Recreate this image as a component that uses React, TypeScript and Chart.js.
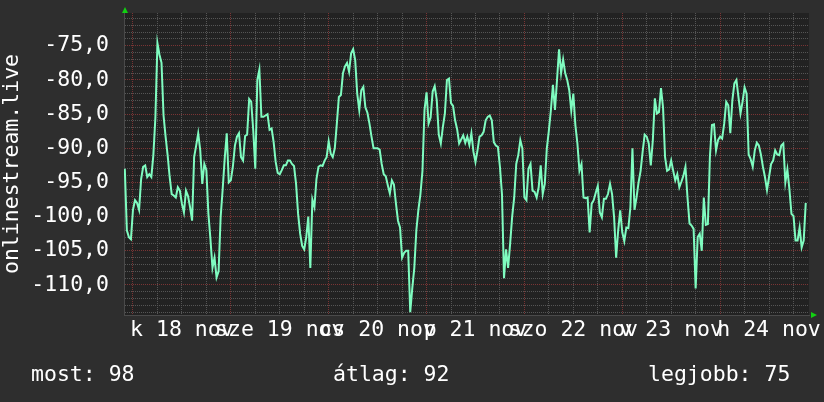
import { useEffect, useRef } from 'react';
import { Chart, registerables } from 'chart.js';

Chart.register(...registerables);

// ---- data (hours relative to 18 Nov 00:00, one value every half hour) ----
const startHour = -2;
const stepHours = 0.5;
const signalValues: number[] = [
  -93, -102, -103, -103.3, -99, -97.6, -98, -99, -94.5, -92.7,
  -92.5, -94.2, -93.8, -94.2, -91, -85.5, -74.6, -76.3, -77.5, -85.2,
  -88.3, -91, -94.2, -96.7, -96.9, -97.2, -95.7, -96.2, -98.1, -99.4,
  -96.2, -97, -98.6, -100.6, -91.3, -89.6, -87.8, -90.3, -95.2, -92.3,
  -93.2, -99.6, -103.3, -107.5, -106, -108.9, -108, -100.1, -96, -91.5,
  -87.8, -95, -94.7, -92.7, -89.6, -88.3, -87.8, -91.3, -91.8, -88.2,
  -88, -82.8, -83.2, -87.4, -93, -80, -78.5, -85.4, -85.4, -85.2,
  -85, -87.3, -87.1, -89.1, -92, -93.6, -93.8, -93.2, -92.5, -92.5,
  -91.8, -91.8, -92.3, -92.6, -95.2, -99.6, -102.5, -104.3, -104.8, -103,
  -100, -107.5, -97.5, -98.6, -94.5, -92.7, -92.5, -92.6, -91.8, -91.3,
  -89, -90.8, -91.3, -90, -86.4, -82.5, -82.2, -79, -78, -77.5,
  -78.8, -76.1, -75.5, -77.1, -82, -84.4, -81.5, -81, -84, -84.8,
  -86.4, -88.3, -90, -90, -90, -90.2, -92.3, -93.8, -94.1, -95.4,
  -96.6, -94.7, -95.3, -98.1, -100.6, -101.6, -106, -105.3, -105, -105,
  -114, -110.5, -107.5, -102, -99, -96.7, -93.3, -84.4, -81.8, -86.4,
  -85.5, -81.7, -80.9, -82.9, -88, -89.3, -86.9, -84.9, -80, -79.8,
  -83.4, -83.8, -85.9, -87.2, -89.3, -88.7, -88.1, -89.2, -88.3, -89.5,
  -87.8, -90.5, -92, -90.3, -88.3, -88.1, -87.6, -85.9, -85.4, -85.2,
  -85.9, -89.1, -89.6, -89.8, -92.7, -96.7, -109, -104.8, -107.5, -104,
  -100, -97.2, -92.3, -91, -88.8, -90, -97.2, -97.6, -93, -92.3,
  -96.2, -96.4, -97.2, -95.7, -92.5, -96.7, -95.2, -90, -87.4, -84.4,
  -80.7, -84.4, -80, -75.5, -79, -77, -79, -80, -81.5, -84.5,
  -82, -86.6, -89.3, -93.3, -92.3, -97.2, -97.3, -97.2, -102.3, -98.1,
  -97.6, -96.5, -95.5, -99.4, -100.1, -97.4, -97.4, -96.7, -95.2, -96.7,
  -100.1, -106, -102, -99.1, -102.3, -103.6, -101.6, -101.7, -98.6, -90,
  -99, -97.2, -95, -93.3, -90.5, -88, -88.3, -89.3, -92.5, -88.8,
  -82.7, -84.9, -84.7, -81.2, -84, -91.3, -93.3, -93.1, -91.8, -93.3,
  -94.7, -93.8, -95.7, -94.9, -94, -92.7, -97.2, -101, -101.3, -101.8,
  -110.5, -103, -102.5, -105, -97.2, -101.2, -101.1, -91.2, -86.6, -86.5,
  -90.3, -88.8, -88.3, -88.6, -86.4, -83.2, -83.7, -87.8, -83, -80.5,
  -80, -82.5, -84.9, -83.2, -81.1, -82, -90.9, -91.6, -92.7, -90.3,
  -89.2, -89.6, -90.9, -92.7, -94.2, -96.1, -94.2, -92.3, -91.8, -90.3,
  -90.9, -91, -89.6, -89.3, -95, -93.1, -96, -99.6, -99.9, -103.5,
  -103.5, -101.6, -104.5, -103.5, -98,
];

const dayLabels = ['k 18 nov', 'sze 19 nov', 'cs 20 nov', 'p 21 nov', 'szo 22 nov', 'v 23 nov', 'h 24 nov'];
const dayLabelHours = [12, 36, 60, 84, 108, 132, 156];
const xGridHours = [0, 6, 12, 18, 24, 30, 36, 42, 48, 54, 60, 66, 72, 78, 84, 90, 96, 102, 108, 114, 120, 126, 132, 138, 144, 150, 156, 162];
const yGridValues = [
  -114, -113, -112, -111, -110, -109, -108, -107, -106, -105, -104, -103, -102, -101, -100,
  -99, -98, -97, -96, -95, -94, -93, -92, -91, -90, -89, -88, -87, -86, -85, -84, -83, -82, -81,
  -80, -79, -78, -77, -76, -75, -74, -73, -72, -71,
];
const yLabelValues = [-110, -105, -100, -95, -90, -85, -80, -75];
const axisTitle = 'onlinestream.live';
const footerTexts = ['most: 98', 'átlag: 92', 'legjobb: 75'];

const X_MIN = -2.2;
const X_MAX = 165.8;
const Y_MIN = -114.4;
const Y_MAX = -70.2;

// ---- styles ----
const FONT = 'DejaVu Sans Mono';
const FONT_SIZE = 21.5;
const OUTER_BG = '#2e2e2e';
const PLOT_BG = '#222222';
const GRID_MINOR = '#555555';
const GRID_MAJOR = '#7a3434';
const AXIS_COLOR = '#4a4a4a';
const LINE_COLOR = '#7ffcc0';
const ARROW_COLOR = '#12d012';
const TEXT_COLOR = '#ffffff';
const FOOTER_X = [31, 333, 648];
const FOOTER_BASELINE = 381;

export default function App() {
  const ref = useRef<HTMLCanvasElement | null>(null);

  useEffect(() => {
    const canvas = ref.current;
    if (!canvas) return;
    const points = signalValues.map((v, i) => ({ x: startHour + i * stepHours, y: v }));

    const decor = {
      id: 'decor',
      beforeDraw(chart: any) {
        const { ctx, chartArea } = chart;
        ctx.save();
        ctx.fillStyle = OUTER_BG;
        ctx.fillRect(0, 0, chart.width, chart.height);
        ctx.fillStyle = PLOT_BG;
        ctx.fillRect(chartArea.left, chartArea.top, chartArea.right - chartArea.left, chartArea.bottom - chartArea.top);
        ctx.restore();
      },
      afterDraw(chart: any) {
        const { ctx, chartArea } = chart;
        ctx.save();
        ctx.fillStyle = ARROW_COLOR;
        ctx.beginPath();
        ctx.moveTo(chartArea.left - 2, chartArea.top);
        ctx.lineTo(chartArea.left + 4, chartArea.top);
        ctx.lineTo(chartArea.left + 1, chartArea.top - 6);
        ctx.closePath();
        ctx.fill();
        ctx.beginPath();
        ctx.moveTo(chartArea.right + 2, chartArea.bottom - 3);
        ctx.lineTo(chartArea.right + 2, chartArea.bottom + 3);
        ctx.lineTo(chartArea.right + 8, chartArea.bottom);
        ctx.closePath();
        ctx.fill();
        ctx.fillStyle = TEXT_COLOR;
        ctx.font = `${FONT_SIZE}px "${FONT}"`;
        ctx.textBaseline = 'alphabetic';
        ctx.textAlign = 'left';
        footerTexts.forEach((t, i) => ctx.fillText(t, FOOTER_X[i], FOOTER_BASELINE));
        ctx.restore();
      },
    };

    const chart = new Chart(canvas, {
      type: 'line',
      data: {
        datasets: [
          {
            data: points,
            borderColor: LINE_COLOR,
            borderWidth: 2,
            pointRadius: 0,
            tension: 0,
            fill: false,
          },
        ],
      },
      options: {
        animation: false,
        responsive: false,
        devicePixelRatio: 1,
        layout: { padding: { left: 0, top: 13, right: 15, bottom: 0 } },
        plugins: {
          legend: { display: false },
          tooltip: { enabled: false },
          title: { display: false },
        },
        scales: {
          x: {
            type: 'linear',
            min: X_MIN,
            max: X_MAX,
            afterBuildTicks: (s: any) => {
              s.ticks = xGridHours.map((v) => ({ value: v }));
            },
            afterFit: (s: any) => {
              s.height = 87;
              s.paddingLeft = 0;
              s.paddingRight = 0;
            },
            grid: {
              color: (c: any) => (c.tick && c.tick.value % 24 === 0 ? GRID_MAJOR : GRID_MINOR),
              lineWidth: 1,
              drawTicks: false,
            },
            border: { display: true, color: AXIS_COLOR, width: 1, dash: [1, 1] },
            ticks: {
              autoSkip: false,
              maxRotation: 0,
              minRotation: 0,
              padding: 3,
              color: TEXT_COLOR,
              font: { family: FONT, size: FONT_SIZE },
              callback: (v: any) => {
                const idx = dayLabelHours.indexOf(Number(v));
                return idx >= 0 ? dayLabels[idx] : '';
              },
            },
          },
          y: {
            type: 'linear',
            min: Y_MIN,
            max: Y_MAX,
            afterBuildTicks: (s: any) => {
              s.ticks = yGridValues.map((v) => ({ value: v }));
            },
            afterFit: (s: any) => {
              s.width = 124;
              s.paddingTop = 0;
              s.paddingBottom = 0;
            },
            grid: {
              color: (c: any) => (c.tick && c.tick.value % 5 === 0 ? GRID_MAJOR : GRID_MINOR),
              lineWidth: 1,
              drawTicks: false,
            },
            border: { display: true, color: AXIS_COLOR, width: 1, dash: [1, 1] },
            ticks: {
              autoSkip: false,
              padding: 15,
              color: TEXT_COLOR,
              font: { family: FONT, size: FONT_SIZE },
              callback: (v: any) =>
                yLabelValues.includes(Number(v)) ? Number(v).toFixed(1).replace('.', ',') : '',
            },
            title: {
              display: true,
              text: axisTitle,
              color: TEXT_COLOR,
              font: { family: FONT, size: FONT_SIZE },
              padding: { top: 0, bottom: 0 },
            },
          },
        },
      },
      plugins: [decor],
    } as any);

    return () => chart.destroy();
  }, []);

  return (
    <div style={{ position: 'fixed', left: 0, top: 0, width: 824, height: 402, background: OUTER_BG }}>
      <canvas ref={ref} width={824} height={402} style={{ display: 'block', width: 824, height: 402 }} />
    </div>
  );
}
